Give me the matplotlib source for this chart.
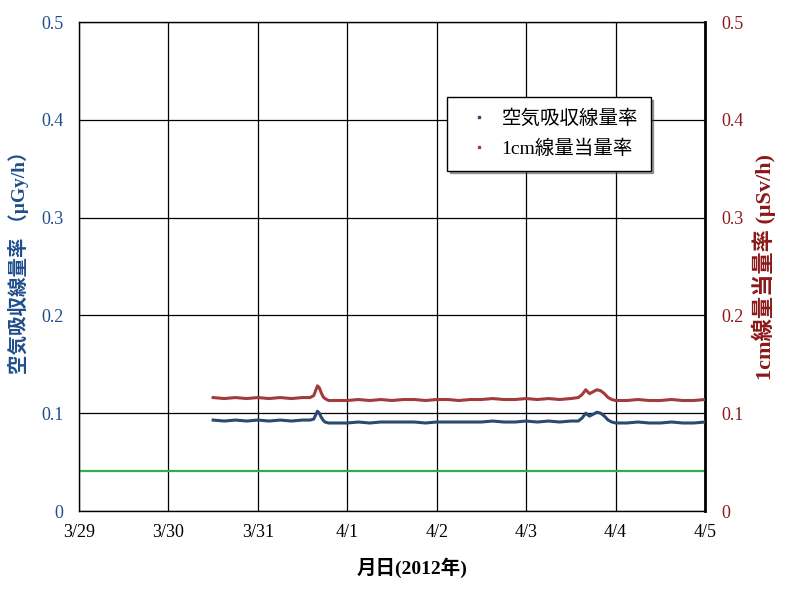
import numpy as np
import matplotlib.pyplot as plt

# hours since 3/29 00:00
hours = [36, 39, 42, 45, 48, 51, 54, 57, 60, 62, 63, 63.5, 64, 64.5, 65, 65.5, 66, 67,
         69, 72, 75, 78, 81, 84, 87, 90, 93, 96, 99, 102, 105, 108, 111, 114, 117,
         120, 123, 126, 129, 132, 134, 135, 136, 137, 138, 139, 140, 141, 142, 143,
         144, 147, 150, 153, 156, 159, 162, 165, 168]

# 1cm dose equivalent rate (uSv/h)
dose_1cm = [0.116, 0.115, 0.116, 0.115, 0.116, 0.115, 0.116, 0.115, 0.116, 0.116,
            0.118, 0.123, 0.128, 0.126, 0.121, 0.117, 0.115, 0.113,
            0.113, 0.113, 0.114, 0.113, 0.114, 0.113, 0.114, 0.114, 0.113, 0.114,
            0.114, 0.113, 0.114, 0.114, 0.115, 0.114, 0.114, 0.115, 0.114, 0.115,
            0.114, 0.115, 0.116, 0.119, 0.124, 0.120, 0.122, 0.124, 0.123, 0.120,
            0.116, 0.114, 0.113, 0.113, 0.114, 0.113, 0.113, 0.114, 0.113, 0.113,
            0.114]

# air absorbed dose rate (uGy/h)
air_dose = [0.093, 0.092, 0.093, 0.092, 0.093, 0.092, 0.093, 0.092, 0.093, 0.093,
            0.094, 0.098, 0.102, 0.100, 0.096, 0.093, 0.091, 0.090,
            0.090, 0.090, 0.091, 0.090, 0.091, 0.091, 0.091, 0.091, 0.090, 0.091,
            0.091, 0.091, 0.091, 0.091, 0.092, 0.091, 0.091, 0.092, 0.091, 0.092,
            0.091, 0.092, 0.092, 0.095, 0.100, 0.097, 0.099, 0.101, 0.100, 0.097,
            0.093, 0.091, 0.090, 0.090, 0.091, 0.090, 0.090, 0.091, 0.090, 0.090,
            0.091]

ref_level = 0.041

day_ticks = [0, 24, 48, 72, 96, 120, 144, 168]
day_labels = ["3/29", "3/30", "3/31", "4/1", "4/2", "4/3", "4/4", "4/5"]
y_ticks = [0, 0.1, 0.2, 0.3, 0.4, 0.5]
y_labels = ["0", "0.1", "0.2", "0.3", "0.4", "0.5"]

fonts = ["Liberation Serif", "Noto Sans CJK JP", "DejaVu Sans"]
plt.rcParams["font.family"] = fonts

blue = "#2B4A72"
red = "#A23B3B"
tick_blue = "#1F4E8C"
tick_red = "#8B1A1A"

fig = plt.figure(figsize=(7.85, 5.92), dpi=100)
ax = fig.add_axes([0.1006, 0.1368, 0.7975, 0.826])

ax.axhline(ref_level, color="#2EAE4E", lw=1.6, zorder=2)
ax.plot(hours, air_dose, color=blue, lw=2.2, zorder=3)
ax.plot(hours, dose_1cm, color=red, lw=2.2, zorder=3)

ax.set_xlim(0, 168)
ax.set_ylim(0, 0.5)
ax.set_xticks(day_ticks)
ax.set_xticklabels(day_labels, fontsize=13)
ax.set_yticks(y_ticks)
ax.set_yticklabels(y_labels, fontsize=13, color=tick_blue)
ax.grid(True, color="black", lw=0.9)
ax.tick_params(axis="y", length=0, pad=11)
ax.tick_params(axis="x", length=0, pad=9)
for s in ax.spines.values():
    s.set_linewidth(1.0)
ax.spines["right"].set_linewidth(2.0)

ax.set_xlabel("月日(2012年)", fontsize=14, fontweight="bold")
ax.xaxis.set_label_coords(0.532, -0.095)
ax.set_ylabel("空気吸収線量率 （μGy/h）", fontsize=14, fontweight="bold",
              color=tick_blue)
ax.yaxis.set_label_coords(-0.08, 0.518)

ax2 = ax.twinx()
ax2.set_ylim(0, 0.5)
ax2.set_yticks(y_ticks)
ax2.set_yticklabels(y_labels, fontsize=13, color=tick_red)
ax2.tick_params(length=0, pad=12)
ax2.set_ylabel("1cm線量当量率 (μSv/h)", fontsize=16, fontweight="bold",
               color=tick_red)
ax2.yaxis.set_label_coords(1.074, 0.5)
for s in ax2.spines.values():
    s.set_visible(False)

h1 = plt.Line2D([], [], color=blue, marker="s", markersize=2, ls="none")
h2 = plt.Line2D([], [], color=red, marker="s", markersize=2, ls="none")
leg = ax.legend([h1, h2], ["空気吸収線量率", "1cm線量当量率"],
                loc="upper left", bbox_to_anchor=(0.588, 0.847),
                borderaxespad=0, fancybox=False, shadow=True,
                framealpha=1, edgecolor="black", fontsize=14,
                handlelength=2.0, borderpad=0.65, labelspacing=0.6,
                handletextpad=0.15)
leg.get_frame().set_linewidth(1.0)

fig.savefig("out.png", dpi=100)
